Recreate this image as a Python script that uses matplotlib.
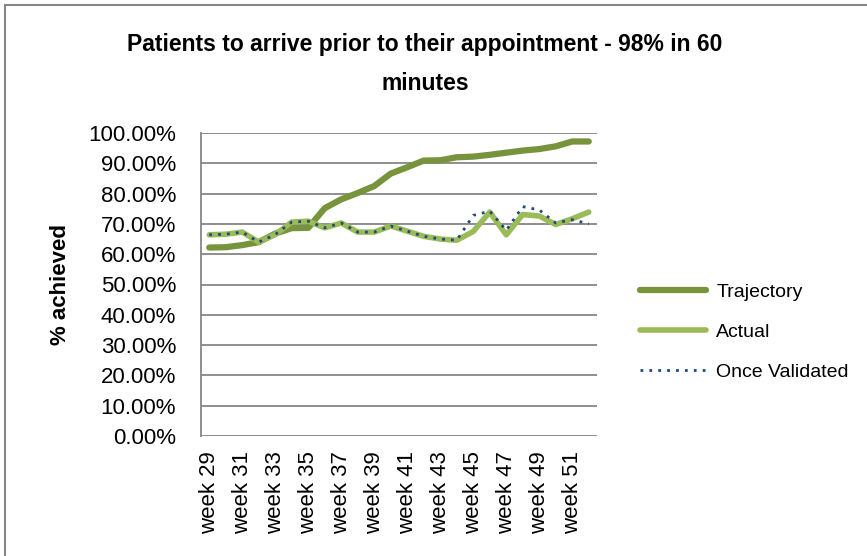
import matplotlib.pyplot as plt
import numpy as np
from matplotlib.patches import Rectangle

plt.rcParams['font.family'] = ['Liberation Sans', 'DejaVu Sans']

weeks = [f"week {w}" for w in range(29, 53)]

trajectory = [62.2, 62.3, 63.0, 64.0, 66.8, 68.6, 68.7, 75.2, 78.1, 80.2, 82.5, 86.6,
              88.7, 90.9, 91.0, 92.0, 92.2, 92.8, 93.5, 94.2, 94.7, 95.6, 97.2, 97.2]
actual = [66.4, 66.6, 67.3, 64.0, 66.5, 70.6, 70.9, 68.7, 70.3, 67.3, 67.3, 69.3,
          67.6, 65.9, 65.0, 64.6, 67.5, 73.9, 66.4, 73.1, 72.6, 69.8, 71.7, 73.9]
validated = [66.4, 66.6, 67.3, 64.0, 66.5, 70.6, 70.9, 68.7, 70.3, 67.3, 67.3, 69.3,
             67.6, 65.9, 65.0, 64.6, 72.8, 74.2, 67.9, 75.7, 74.6, 70.3, 71.4, 70.0]

x = np.arange(len(weeks))

fig = plt.figure(figsize=(8.67, 5.56), dpi=100)
fig.patches.append(Rectangle((5 / 867, -0.01), 1.0, 1.0 - 5 / 556 + 0.01, transform=fig.transFigure,
                             fill=False, edgecolor='#868686', linewidth=1.5))

ax = fig.add_axes([201 / 867, 1 - 436 / 556, 396 / 867, 303 / 556])

ax.plot(x, trajectory, color='#77933C', linewidth=4.5, label='Trajectory', solid_capstyle='round')
ax.plot(x, actual, color='#9BBB59', linewidth=4, label='Actual', solid_capstyle='round')
ax.plot(x, validated, color='#1F497D', linewidth=2, linestyle=(0, (1, 2.2)), label='Once Validated')

ax.set_xlim(-0.5, len(weeks) - 0.5)
ax.set_ylim(0, 100)
ax.set_yticks(np.arange(0, 101, 10))
ax.set_yticklabels([f"{v:.2f}%" for v in range(0, 101, 10)], fontsize=16)
ax.set_xticks(x[::2])
ax.set_xticklabels(weeks[::2], rotation=90, fontsize=16)
ax.tick_params(axis='y', length=0, pad=18)
ax.tick_params(axis='x', length=0, pad=11)
ax.grid(axis='y', color='#868686', linewidth=1.3)
ax.set_axisbelow(True)
for s in ['top', 'right', 'bottom']:
    ax.spines[s].set_visible(False)
ax.spines['left'].set_color('#868686')
ax.spines['left'].set_linewidth(1.3)

ax.set_ylabel('% achieved', fontsize=16, fontweight='bold', labelpad=12)

fig.text(0.49, 1 - 45 / 556, 'Patients to arrive prior to their appointment - 98% in 60',
         ha='center', va='center', fontsize=16.5, fontweight='bold')
fig.text(0.49, 1 - 83 / 556, 'minutes', ha='center', va='center', fontsize=16.5, fontweight='bold')

ax.legend(loc='center left', bbox_to_anchor=(622 / 867, 1 - 332 / 556), bbox_transform=fig.transFigure,
          frameon=False, fontsize=14, handlelength=3.4, labelspacing=1.15, handletextpad=0.55)

fig.savefig('out.png', dpi=100)
